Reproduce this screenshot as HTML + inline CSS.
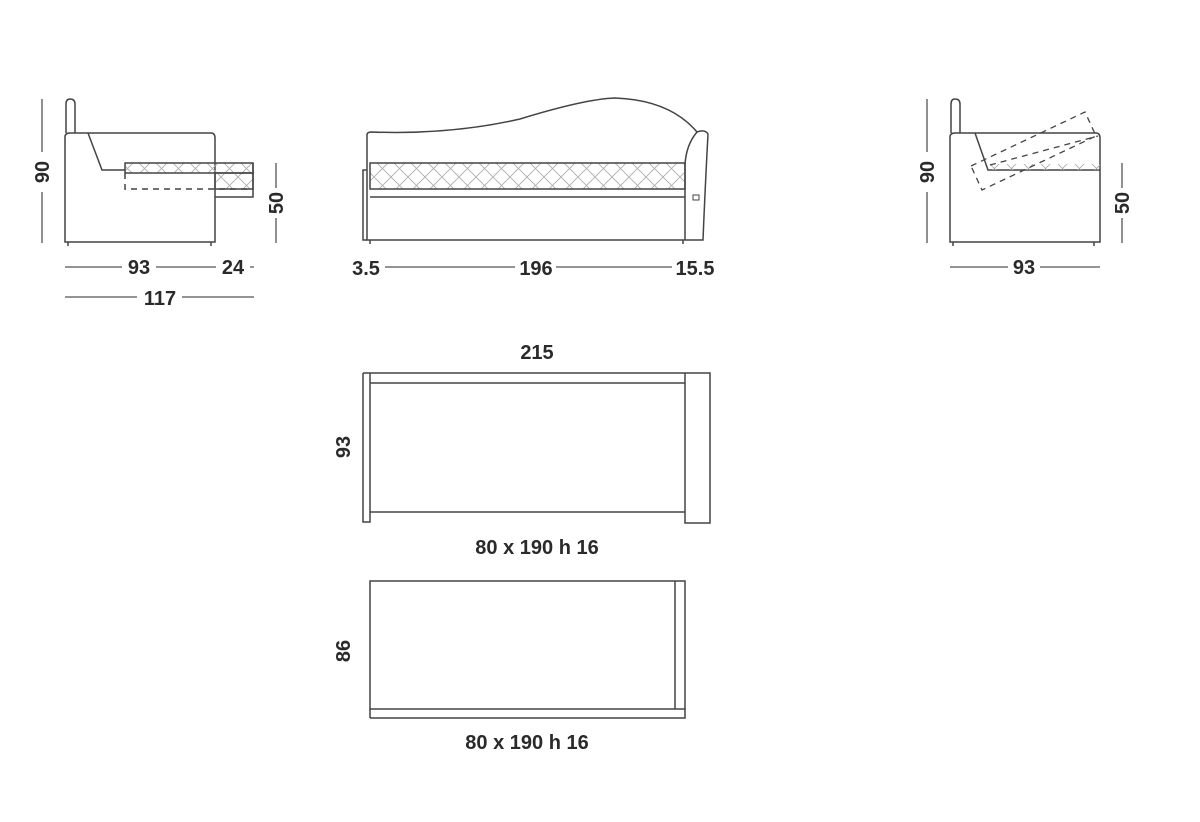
<!DOCTYPE html>
<html><head><meta charset="utf-8"><style>
html,body{margin:0;padding:0;background:#fff;}
svg{display:block}
text{font-family:"Liberation Sans",sans-serif;font-weight:bold;font-size:20px;fill:#2a2a2a;}
</style></head><body>
<svg width="1200" height="822" viewBox="0 0 1200 822" xmlns="http://www.w3.org/2000/svg">
<defs>
<pattern id="q" width="17" height="17" patternUnits="userSpaceOnUse" patternTransform="translate(0,160)">
<path d="M0 0 L17 17 M17 0 L0 17" stroke="#aaa" stroke-width="0.8" fill="none"/>
</pattern>
</defs>
<g fill="none" stroke="#444" stroke-width="1.5">
<!-- LEFT SIDE VIEW -->
<path d="M66 133 V104 Q66 99 70 99 Q75 99 75 104 V133"/>
<path d="M65 242 V137 Q65 133 70 133 H211 Q215 133 215 138 V242 Z"/>
<path d="M88 133 L102 170 H125"/>
<rect x="125" y="163" width="128" height="10" fill="url(#q)"/>
<rect x="215" y="173" width="38" height="16" fill="url(#q)"/>
<path d="M125 173 V189 H253" stroke-dasharray="6 5"/>
<path d="M215 197 H253 V163"/>
<path d="M68 242 v4 M211 242 v4"/>
<!-- MIDDLE FRONT VIEW -->
<path d="M367 240 V135 Q367 132 371 132 Q450 135 520 119 Q585 99 615 98 Q670 100 697 132 Q705 129 708 134 Q705 190 703 240 Z"/>
<path d="M697 132 Q686 145 685 165 V240"/>
<path d="M367 170 H363 V240 H367"/>
<rect x="370" y="163" width="315" height="26" fill="url(#q)"/>
<path d="M370 197 H685"/>
<rect x="693" y="195" width="6" height="5" stroke-width="1"/>
<path d="M370 240 v4 M683 240 v4"/>
<!-- RIGHT SIDE VIEW -->
<path d="M951 133 V104 Q951 99 955 99 Q960 99 960 104 V133"/>
<path d="M950 242 V137 Q950 133 955 133 H1096 Q1100 133 1100 138 V242 Z"/>
<path d="M975 133 L988 170 H1100"/>
<rect x="988" y="164" width="112" height="6" fill="url(#q)" stroke="none"/>
<path d="M971 166 L1085 112 L1096 136 L982 190 Z" stroke-dasharray="6 5" stroke-width="1.3"/>
<path d="M990 165 L1098 136" stroke-dasharray="6 5" stroke-width="1.3"/>
<path d="M953 242 v4 M1094 242 v4"/>
<!-- PLAN 1 -->
<path d="M363 373 H710 V523 H685 V373"/>
<path d="M363 373 V522 H370 V373"/>
<path d="M370 383 H685 M370 512 H685"/>
<!-- PLAN 2 -->
<rect x="370" y="581" width="315" height="128"/>
<path d="M370 718 H685 V709 M370 718 V709 M675 581 V709"/>
</g>
<!-- dimension lines -->
<g stroke="#555" stroke-width="1.3">
<path d="M42 99 V152 M42 192 V243"/>
<path d="M276 163 V188 M276 218 V243"/>
<path d="M65 267 H122 M156 267 H216 M250 267 H254"/>
<path d="M65 297 H137 M182 297 H254"/>
<path d="M385 267 H515 M556 267 H672"/>
<path d="M927 99 V152 M927 192 V243"/>
<path d="M1122 163 V188 M1122 218 V243"/>
<path d="M950 267 H1008 M1040 267 H1100"/>
</g>
<text x="42" y="172" text-anchor="middle" transform="rotate(-90 42 172)" dy="7">90</text>
<text x="276" y="203" text-anchor="middle" transform="rotate(-90 276 203)" dy="7">50</text>
<text x="139" y="274" text-anchor="middle">93</text>
<text x="233" y="274" text-anchor="middle">24</text>
<text x="160" y="305" text-anchor="middle">117</text>
<text x="366" y="275" text-anchor="middle">3.5</text>
<text x="536" y="275" text-anchor="middle">196</text>
<text x="695" y="275" text-anchor="middle">15.5</text>
<text x="927" y="172" text-anchor="middle" transform="rotate(-90 927 172)" dy="7">90</text>
<text x="1122" y="203" text-anchor="middle" transform="rotate(-90 1122 203)" dy="7">50</text>
<text x="1024" y="274" text-anchor="middle">93</text>
<text x="537" y="359" text-anchor="middle">215</text>
<text x="343" y="447" text-anchor="middle" transform="rotate(-90 343 447)" dy="7">93</text>
<text x="537" y="554" text-anchor="middle">80 x 190 h 16</text>
<text x="343" y="651" text-anchor="middle" transform="rotate(-90 343 651)" dy="7">86</text>
<text x="527" y="749" text-anchor="middle">80 x 190 h 16</text>
</svg>
</body></html>
